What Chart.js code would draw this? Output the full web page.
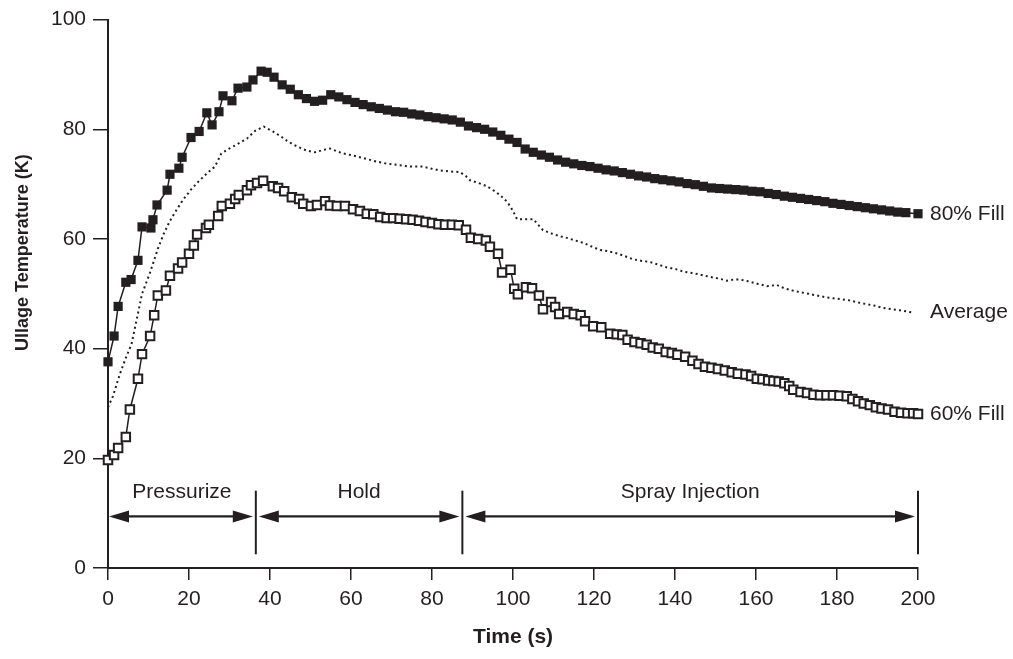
<!DOCTYPE html>
<html>
<head>
<meta charset="utf-8">
<script src="https://cdn.jsdelivr.net/npm/chart.js@4.4.1/dist/chart.umd.min.js"></script>
<style>
  html, body { margin: 0; padding: 0; background: #fff; }
  #wrap { width: 1013px; height: 659px; }
</style>
</head>
<body>
<div id="wrap"><canvas id="c" width="1013" height="659"></canvas></div>
<script>
// ---------------- data ----------------
const xTicks = [0, 20, 40, 60, 80, 100, 120, 140, 160, 180, 200];
const yTicks = [0, 20, 40, 60, 80, 100];

const seriesNames = ['80% Fill', 'Average', '60% Fill'];
const xTitle = 'Time (s)';
const yTitle = 'Ullage Temperature (K)';

const t80 = [0, 1.5, 2.5, 4.4, 5.7, 7.4, 8.4, 10.6, 11.1, 12.1, 14.6, 15.3, 17.5, 18.3, 20.5, 22.5, 24.4, 25.7, 27.4, 28.4,
  30.6, 32.1, 34.3, 35.8, 37.8, 39.3, 41, 43, 45, 47, 49, 51, 53, 55, 57, 59, 61, 63, 65, 67, 69, 71, 73, 75, 77, 79,
  81, 83, 85, 87, 89, 91, 93, 95, 97, 99, 101, 103, 105, 107, 109, 111, 113, 115, 117, 119, 121, 123, 125, 127, 129,
  131, 133, 135, 137, 139, 141, 143, 145, 147, 149, 151, 153, 155, 157, 159, 161, 163, 165, 167, 169, 171, 173, 175,
  177, 179, 181, 183, 185, 187, 189, 191, 193, 195, 197, 200];
const v80 = [37.6, 42.3, 47.7, 52.1, 52.6, 56.1, 62.2, 62.0, 63.5, 66.2, 68.9, 71.8, 72.9, 74.9, 78.5, 79.6, 83.0, 80.8, 83.2, 86.1,
  85.2, 87.5, 87.7, 89.0, 90.6, 90.4, 89.5, 88.1, 87.3, 86.3, 85.6, 85.1, 85.3, 86.3, 85.9, 85.4, 84.9, 84.5, 84.1, 83.8, 83.5, 83.2, 83.1, 82.8, 82.6, 82.3,
  82.1, 81.9, 81.7, 81.3, 80.6, 80.3, 80.0, 79.5, 78.9, 78.2, 77.6, 76.4, 75.8, 75.3, 74.9, 74.4, 74.0, 73.7, 73.4, 73.2, 72.9, 72.6, 72.4, 72.1, 71.8,
  71.5, 71.3, 71.0, 70.8, 70.6, 70.4, 70.1, 69.9, 69.6, 69.3, 69.2, 69.1, 69.0, 68.9, 68.7, 68.6, 68.3, 68.1, 67.8, 67.6, 67.4, 67.2, 67.0,
  66.8, 66.5, 66.3, 66.1, 65.9, 65.7, 65.5, 65.3, 65.1, 64.9, 64.8, 64.6];

const t60 = [0, 1.5, 2.5, 4.4, 5.4, 7.4, 8.4, 10.4, 11.4, 12.3, 14.3, 15.3, 17.3, 18.3, 20.0, 21.2, 22.0, 24.2, 24.9, 27.2,
  28.1, 30.1, 31.4, 32.3, 34.3, 35.3, 36.8, 38.3, 40.7, 42.0, 43.5, 45.4, 47.2, 48.2, 50.1, 51.6, 53.6, 54.8, 56.5, 58.5,
  60.5, 62.2, 63.9, 65.5, 67.2, 68.8, 70.4, 72.0, 73.6, 75.2, 76.8, 78.4, 80.0, 81.6, 83.2, 84.9, 86.6, 88.4, 89.6, 91.4,
  93.3, 94.3, 96.3, 97.3, 99.4, 100.3, 101.2, 103.2, 104.7, 106.4, 107.4, 109.4, 110.4, 111.4, 113.4, 115.0, 116.7, 117.8, 119.8, 121.8,
  124.0, 125.6, 127.0, 128.3, 130.0, 131.5, 133.0, 134.5, 136.0, 137.7, 139.2, 140.6, 142.5, 144.3, 145.8, 147.4, 149.0, 150.6, 152.3, 154.0,
  155.5, 157.4, 158.8, 160.2, 161.6, 163.0, 164.3, 165.6, 167.0, 168.2, 169.2, 171.0, 172.6, 174.2, 175.8, 177.4, 179.0, 180.6, 182.4, 183.8,
  185.2, 186.6, 188.1, 189.6, 191.0, 192.6, 194.2, 195.8, 197.4, 198.8, 200.0];
const v60 = [19.7, 20.6, 21.9, 23.9, 28.9, 34.5, 39.0, 42.3, 46.1, 49.7, 50.6, 53.3, 54.6, 55.7, 57.3, 58.8, 60.8, 62.0, 62.6, 64.2,
  66.0, 66.4, 67.3, 68.0, 68.9, 69.8, 70.2, 70.6, 69.6, 69.3, 68.7, 67.6, 67.3, 66.4, 66.0, 66.2, 66.9, 66.1, 66.0, 66.0,
  65.4, 65.1, 64.6, 64.5, 64.0, 63.8, 63.8, 63.7, 63.6, 63.5, 63.3, 63.1, 62.9, 62.7, 62.6, 62.6, 62.5, 61.7, 60.2, 60.0,
  59.7, 58.6, 57.3, 53.9, 54.4, 50.9, 49.9, 51.2, 51.0, 49.7, 47.2, 48.5, 47.6, 46.3, 46.7, 46.3, 46.1, 45.0, 44.1, 43.9,
  42.7, 42.6, 42.5, 41.6, 41.2, 41.0, 40.7, 40.2, 40.0, 39.4, 39.2, 38.9, 38.5, 37.8, 37.2, 36.7, 36.5, 36.3, 36.0, 35.7,
  35.4, 35.3, 35.0, 34.5, 34.4, 34.2, 34.1, 34.0, 33.7, 33.2, 32.5, 32.1, 31.9, 31.6, 31.5, 31.5, 31.5, 31.4, 31.3, 30.8,
  30.4, 30.0, 29.7, 29.3, 29.1, 28.9, 28.5, 28.3, 28.2, 28.2, 28.1];

const tAvg = [0, 1.2, 3.0, 4.5, 5.8, 7.0, 8.4, 10.4, 12.3, 13.8, 15.3, 17.0, 18.5, 20.5, 22.5, 24.5, 26.4, 28.0, 30.0, 32.0,
  34.3, 36.3, 38.5, 40.7, 42.5, 44.2, 45.8, 47.5, 49.1, 51.1, 53.0, 54.8, 56.5, 58.0, 60.0, 62.2, 64.3, 66.4, 68.4, 70.4,
  72.5, 74.6, 77.8, 80.0, 82.0, 84.5, 86.9, 88.3, 89.4, 91.5, 93.6, 95.3, 96.8, 98.0, 99.3, 100.2, 101.0, 103.0, 105.0, 106.2,
  107.4, 109.5, 111.6, 113.3, 115.5, 117.3, 119.5, 121.5, 123.2, 125.5, 127.5, 129.6, 131.8, 133.8, 136.0, 138.0, 140.2, 142.3, 144.2, 146.2,
  148.5, 150.7, 152.8, 154.5, 156.0, 158.0, 160.5, 162.7, 164.0, 165.2, 167.0, 169.0, 170.9, 173.0, 175.0, 177.0, 179.0, 181.0, 183.2, 185.3,
  187.4, 189.5, 191.4, 193.5, 195.5, 197.0, 198.5];
const vAvg = [29.3, 31.3, 35.5, 38.5, 40.8, 45.0, 50.0, 53.9, 58.2, 61.0, 63.3, 65.4, 67.1, 69.0, 70.6, 72.0, 73.2, 75.6, 76.5, 77.3,
  78.3, 79.7, 80.5, 79.6, 78.8, 77.9, 77.2, 76.6, 76.1, 75.8, 76.2, 76.5, 76.0, 75.6, 75.3, 74.9, 74.5, 74.1, 73.8, 73.6,
  73.4, 73.2, 73.2, 72.8, 72.5, 72.3, 72.2, 71.5, 70.7, 70.2, 69.6, 68.8, 68.0, 67.2, 66.0, 64.8, 63.6, 63.6, 63.6, 62.6,
  61.6, 61.0, 60.5, 60.2, 59.7, 59.3, 58.6, 58.0, 57.8, 57.4, 56.9, 56.3, 56.0, 55.8, 55.3, 54.8, 54.5, 54.0, 53.8, 53.5,
  53.1, 52.8, 52.4, 52.6, 52.6, 52.3, 51.8, 51.4, 51.5, 51.6, 51.0, 50.6, 50.3, 50.0, 49.7, 49.4, 49.2, 49.0, 48.8, 48.4,
  48.1, 47.8, 47.4, 47.2, 47.0, 46.8, 46.6];

// phase annotation (time boundaries in s, arrow level in K)
const phaseBounds = [0, 36.5, 87.5, 200];
const phaseLabels = ['Pressurize', 'Hold', 'Spray Injection'];
const phaseArrowK = 9.4;
const phaseLineK = [2.5, 14.1];
const phaseTextK = 13.9;
const yTitleCenterK = 57.5;

// ---------------- chart ----------------
const INK = '#231f20';
const FONT = "'Liberation Sans', Arial, sans-serif";
const zip = (xs, ys) => xs.map((x, i) => ({ x: x, y: ys[i] }));

const annot = {
  id: 'annot',
  afterDatasetsDraw(chart) {
    const { ctx, chartArea, scales: { x, y } } = chart;
    ctx.save();
    ctx.strokeStyle = INK;
    ctx.fillStyle = INK;
    // vertical separators
    ctx.lineWidth = 2;
    const yl0 = y.getPixelForValue(phaseLineK[0]);
    const yl1 = y.getPixelForValue(phaseLineK[1]);
    for (let i = 1; i < phaseBounds.length; i++) {
      const px = x.getPixelForValue(phaseBounds[i]);
      ctx.beginPath(); ctx.moveTo(px, yl0); ctx.lineTo(px, yl1); ctx.stroke();
    }
    // double arrows
    const ay = y.getPixelForValue(phaseArrowK);
    const headL = 20, headH = 6;
    for (let i = 0; i < phaseBounds.length - 1; i++) {
      const a = x.getPixelForValue(phaseBounds[i]) + (i === 0 ? 1 : 3);
      const b = x.getPixelForValue(phaseBounds[i + 1]) - 3;
      ctx.lineWidth = 2.2;
      ctx.beginPath(); ctx.moveTo(a + headL - 2, ay); ctx.lineTo(b - headL + 2, ay); ctx.stroke();
      ctx.beginPath(); ctx.moveTo(a, ay); ctx.lineTo(a + headL, ay - headH); ctx.lineTo(a + headL, ay + headH); ctx.closePath(); ctx.fill();
      ctx.beginPath(); ctx.moveTo(b, ay); ctx.lineTo(b - headL, ay - headH); ctx.lineTo(b - headL, ay + headH); ctx.closePath(); ctx.fill();
      // label
      ctx.font = '21px ' + FONT;
      ctx.textAlign = 'center';
      ctx.textBaseline = 'middle';
      const cx = (x.getPixelForValue(phaseBounds[i]) + x.getPixelForValue(phaseBounds[i + 1])) / 2;
      ctx.fillText(phaseLabels[i], cx, y.getPixelForValue(phaseTextK));
    }
    // series end labels
    ctx.font = '21px ' + FONT;
    ctx.textAlign = 'left';
    ctx.textBaseline = 'middle';
    chart.data.datasets.forEach((ds) => {
      const last = ds.data[ds.data.length - 1];
      ctx.fillText(ds.label, chartArea.right + 12, y.getPixelForValue(last.y));
    });
    // y-axis title
    ctx.save();
    ctx.translate(y.left + 23, y.getPixelForValue(yTitleCenterK));
    ctx.rotate(-Math.PI / 2);
    ctx.font = 'bold 18px ' + FONT;
    ctx.textAlign = 'center';
    ctx.textBaseline = 'middle';
    ctx.fillText(yTitle, 0, 0);
    ctx.restore();
    ctx.restore();
  }
};

new Chart(document.getElementById('c'), {
  type: 'line',
  data: {
    datasets: [
      {
        label: seriesNames[0], data: zip(t80, v80),
        borderColor: INK, borderWidth: 1.5, backgroundColor: INK,
        pointStyle: 'rect', pointRadius: 6.5, pointBorderWidth: 0, pointBackgroundColor: INK,
        tension: 0, clip: false
      },
      {
        label: seriesNames[1], data: zip(tAvg, vAvg),
        borderColor: INK, borderWidth: 2, borderDash: [2, 3.2], pointRadius: 0,
        tension: 0, clip: false
      },
      {
        label: seriesNames[2], data: zip(t60, v60),
        borderColor: INK, borderWidth: 1.5,
        pointStyle: 'rect', pointRadius: 6, pointBorderWidth: 2,
        pointBorderColor: INK, pointBackgroundColor: '#fff',
        tension: 0, clip: false
      }
    ]
  },
  options: {
    responsive: false,
    animation: false,
    layout: { padding: { top: 15, right: 95, left: 0, bottom: 0 } },
    plugins: { legend: { display: false }, tooltip: { enabled: false } },
    scales: {
      x: {
        type: 'linear', min: 0, max: 200,
        afterBuildTicks: (s) => { s.ticks = xTicks.map(v => ({ value: v })); },
        afterFit: (s) => { s.height = 91; },
        ticks: { color: INK, font: { family: FONT, size: 21 }, padding: 7, maxRotation: 0 },
        grid: { drawOnChartArea: false, drawTicks: true, tickLength: 12, color: INK, lineWidth: 1.5 },
        border: { display: true, color: INK, width: 2 },
        title: { display: true, text: xTitle, color: INK, font: { family: FONT, size: 21, weight: 'bold' }, padding: { top: 0, bottom: 9 } }
      },
      y: {
        type: 'linear', min: 0, max: 100,
        afterBuildTicks: (s) => { s.ticks = yTicks.map(v => ({ value: v })); },
        afterFit: (s) => { s.width = 108; },
        ticks: { color: INK, font: { family: FONT, size: 21 }, padding: 7 },
        grid: { drawOnChartArea: false, drawTicks: true, tickLength: 15, color: INK, lineWidth: 1.5 },
        border: { display: true, color: INK, width: 2 },
        title: { display: false }
      }
    }
  },
  plugins: [annot]
});
</script>
</body>
</html>
